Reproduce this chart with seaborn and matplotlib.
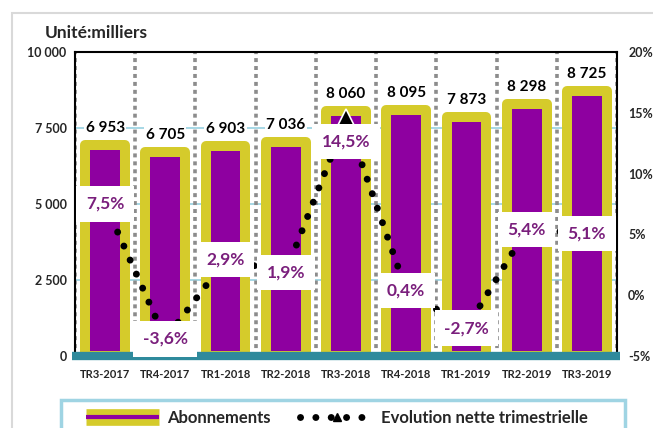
import numpy as np
import matplotlib
matplotlib.use("Agg")
import matplotlib.pyplot as plt
import seaborn as sns
from matplotlib.lines import Line2D
from matplotlib.patches import Rectangle
from matplotlib.legend_handler import HandlerTuple

# data
trimestres = ["TR3-2017", "TR4-2017", "TR1-2018", "TR2-2018", "TR3-2018",
              "TR4-2018", "TR1-2019", "TR2-2019", "TR3-2019"]
abonnements = [6953, 6705, 6903, 7036, 8060, 8095, 7873, 8298, 8725]
evolution = [7.5, -3.6, 2.9, 1.9, 14.5, 0.4, -2.7, 5.4, 5.1]
left_ticks = [0, 2500, 5000, 7500, 10000]
right_ticks = [-5, 0, 5, 10, 15, 20]

PURPLE = "#8e00a0"
YELLOW = "#d5cb2b"
TEAL = "#2f8a9c"
LABEL_PURPLE = "#7a1f7c"
DOTS = (0, (0.01, 2.2))

sns.set_style("white")
plt.rcParams["font.family"] = ["Lato", "DejaVu Sans"]
plt.rcParams["font.weight"] = "bold"

fig = plt.figure(figsize=(6.53, 4.28), dpi=100)
ax = fig.add_axes([75 / 653, 72 / 428, 542 / 653, 304 / 428])
x = np.arange(len(trimestres))

# outer chart frame and legend frame
fig.patches.append(Rectangle((12 / 653, -0.1), 1.2, 1.1 - 13 / 428, transform=fig.transFigure,
                             fill=False, edgecolor="#d9d9d9", linewidth=1.5, zorder=0))
fig.patches.append(Rectangle((61 / 653, -0.1), 564 / 653, 0.1 + 28 / 428, transform=fig.transFigure,
                             fill=False, edgecolor="#9fd4e3", linewidth=2.5, zorder=1))

sns.barplot(x=x, y=abonnements, ax=ax, color=PURPLE, width=0.66, saturation=1,
            edgecolor=YELLOW, linewidth=7.2, zorder=3, native_scale=True)
for p in ax.patches:
    p.set_joinstyle("round")

ax.set_xlim(-0.5, len(trimestres) - 0.5)
ax.set_ylim(0, 10000)
ax.set_yticks(left_ticks)
ax.set_yticklabels([f"{v:,}".replace(",", " ") for v in left_ticks], fontsize=9, fontweight="bold")
ax.set_xticks(x)
ax.set_xticklabels(trimestres, fontsize=8, fontweight="bold")
ax.tick_params(axis="both", length=0, pad=6)
ax.tick_params(axis="x", pad=9)

for v in left_ticks[1:-1]:
    ax.axhline(v, color="#9fd4e3", linewidth=1.3, zorder=1)
for b in np.arange(len(trimestres) + 1) - 0.5:
    ax.axvline(b, color="#8c8c8c", linewidth=2.6, linestyle=(0, (1.1, 1.1)), zorder=2)

for s in ["left", "top", "right"]:
    ax.spines[s].set_color("black")
    ax.spines[s].set_linewidth(1.5)
ax.spines["bottom"].set_visible(False)
ax.axhline(0, xmin=-0.005, xmax=1.005, color=TEAL, linewidth=6, zorder=6, clip_on=False,
           solid_capstyle="butt")

# bar values
for xi, v in zip(x, abonnements):
    ax.annotate(f"{v:,}".replace(",", " "), (xi, v), xytext=(0, 17), textcoords="offset pixels",
                ha="center", va="center", fontsize=11, fontweight="bold", color="black", zorder=8,
                bbox=dict(boxstyle="square,pad=0.1", facecolor="white", edgecolor="none"))

ax.annotate("Unité:milliers", (0, 1), xycoords="axes fraction", xytext=(-30, 11),
            textcoords="offset pixels", fontsize=12.5, fontweight="bold", ha="left", va="bottom")

# evolution line on right axis
ax2 = ax.twinx()
ax2.set_ylim(-5, 20)
ax2.set_yticks(right_ticks)
ax2.set_yticklabels([f"{v}%" for v in right_ticks], fontsize=9, fontweight="bold")
ax2.tick_params(axis="y", length=0, pad=8)
for s in ax2.spines.values():
    s.set_visible(False)
ax2.grid(False)

sns.lineplot(x=x, y=evolution, ax=ax2, color="black", linewidth=5, zorder=4, legend=False)
line = ax2.lines[-1]
line.set_linestyle(DOTS)
line.set_dash_capstyle("round")

top = int(np.argmax(evolution))
ax2.plot(x[top], evolution[top], marker="^", markersize=14, color="black",
         markeredgecolor="white", markeredgewidth=1.2, linestyle="none", zorder=7)

for i, (xi, v) in enumerate(zip(x, evolution)):
    off = -23 if i == top else 0
    ax2.annotate(f"{v:.1f}%".replace(".", ","), (xi, v), xytext=(0, off), textcoords="offset pixels",
                 ha="center", va="center", fontsize=12.5, fontweight="bold", color=LABEL_PURPLE,
                 zorder=9, bbox=dict(boxstyle="square,pad=0.55", facecolor="white", edgecolor="none"))

# legend
bar_handle = (Line2D([], [], color=YELLOW, linewidth=12, solid_capstyle="butt"),
              Line2D([], [], color=PURPLE, linewidth=3, solid_capstyle="butt"))
line_handle = Line2D([], [], color="black", linewidth=5, linestyle=DOTS,
                     dash_capstyle="round", marker="^", markersize=6)
leg = fig.legend([bar_handle, line_handle], ["Abonnements", "Evolution nette trimestrielle"],
                 handler_map={tuple: HandlerTuple(ndivide=1, pad=0)},
                 loc="center left", bbox_to_anchor=(86 / 653, 1 - 418 / 428),
                 ncol=2, frameon=False, handlelength=4.4,
                 prop=dict(size=12, weight="bold"), borderpad=0, numpoints=1,
                 borderaxespad=0, columnspacing=1.8, handletextpad=0.45)

fig.savefig("out.png", dpi=100)
